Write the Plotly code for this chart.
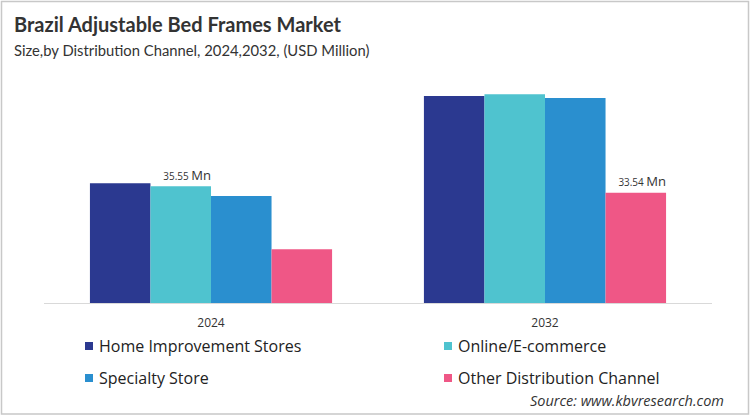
import plotly.graph_objects as go

years = ["2024", "2032"]
channels = ["Home Improvement Stores", "Online/E-commerce", "Specialty Store", "Other Distribution Channel"]
home_improvement = [36.5, 63.0]
online = [35.55, 63.6]
specialty = [32.6, 62.4]
other = [16.4, 33.54]
labelled = {"Online/E-commerce": [True, False], "Other Distribution Channel": [False, True]}
colors = ["#2B3990", "#4FC3CF", "#2A8FCF", "#EF5786"]

series = [home_improvement, online, specialty, other]

W, H = 752, 416
L, R, T, B = 44, 40, 60, 113
pw, ph = W - L - R, H - T - B

def px(p):
    return (p - L) / pw

def py(q):
    return (H - B - q) / ph

fig = go.Figure()
for name, vals, col in zip(channels, series, colors):
    flags = labelled.get(name, [False, False])
    texts = [
        (f"&nbsp;&nbsp;&nbsp;&nbsp;&nbsp;{v:.2f}&nbsp;<span style='font-size:14.5px'>Mn</span>" if f else "")
        for v, f in zip(vals, flags)
    ]
    fig.add_trace(go.Bar(
        x=years, y=vals, name=name, marker=dict(color=col, line=dict(width=0)),
        text=texts, textposition="outside", cliponaxis=False,
        textfont=dict(family="Open Sans", size=11, color="#333333"),
        hoverinfo="skip", showlegend=False,
    ))

fig.update_layout(
    width=W, height=H,
    margin=dict(l=L, r=R, t=T, b=B),
    paper_bgcolor="white", plot_bgcolor="white",
    barmode="group", bargap=0.275, bargroupgap=0,
    showlegend=False,
    xaxis=dict(
        type="category", showline=True, linecolor="#d9d9d9", linewidth=1,
        ticks="", showgrid=False, ticklabelstandoff=9,
        tickfont=dict(family="Open Sans", size=12, color="#333333"),
    ),
    yaxis=dict(range=[0, 74], visible=False, showgrid=False),
    font=dict(family="Open Sans"),
)

# legend (manual, 2 x 2 grid)
leg_pos = [(85, 346), (444, 346), (85, 378), (444, 378)]
for name, col, (lx, ly) in zip(channels, colors, leg_pos):
    fig.add_shape(
        type="rect", xref="paper", yref="paper",
        x0=px(lx), x1=px(lx + 8), y0=py(ly + 4), y1=py(ly - 4),
        line=dict(width=0), fillcolor=col,
    )
    fig.add_annotation(
        text=name, xref="paper", yref="paper",
        x=px(lx + 12), y=py(ly), xanchor="left", yanchor="middle", showarrow=False,
        font=dict(family="Open Sans", size=16, color="#222222"),
    )

fig.add_annotation(
    text="<b>Brazil Adjustable Bed Frames Market</b>", xref="paper", yref="paper",
    x=px(12), y=py(24), xanchor="left", yanchor="middle", showarrow=False,
    font=dict(family="Lato", size=20, color="#333333"),
)
fig.add_annotation(
    text="Size,by Distribution Channel, 2024,2032, (USD Million)", xref="paper", yref="paper",
    x=px(12), y=py(50), xanchor="left", yanchor="middle", showarrow=False,
    font=dict(family="Lato", size=14.8, color="#333333"),
)
fig.add_annotation(
    text="<i>Source: www.kbvresearch.com</i>", xref="paper", yref="paper",
    x=px(726), y=py(400), xanchor="right", yanchor="middle", showarrow=False,
    font=dict(family="Open Sans", size=14.5, color="#333333"),
)
fig.add_shape(
    type="rect", xref="paper", yref="paper",
    x0=px(1.5), x1=px(748.5), y0=py(414), y1=py(1.5),
    line=dict(color="#c8c8c8", width=1.5), fillcolor="rgba(0,0,0,0)", layer="above",
)

fig.write_html("out.html", config={"displayModeBar": False},
               post_script="document.body.style.margin='0px';")
